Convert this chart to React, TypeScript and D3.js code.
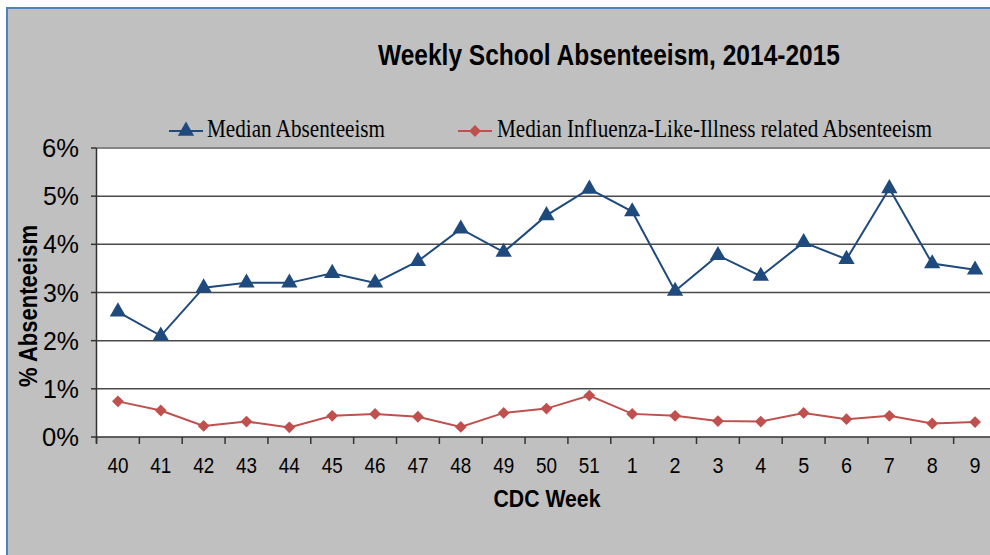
import React from 'react';
import * as d3 from 'd3';

const weeks = ['40', '41', '42', '43', '44', '45', '46', '47', '48', '49', '50', '51', '1', '2', '3', '4', '5', '6', '7', '8', '9'];
const medianAbsent = [2.6, 2.1, 3.1, 3.2, 3.2, 3.4, 3.2, 3.65, 4.32, 3.84, 4.6, 5.15, 4.68, 3.03, 3.77, 3.34, 4.04, 3.69, 5.16, 3.6, 3.47];
const medianIli = [0.74, 0.55, 0.23, 0.32, 0.2, 0.44, 0.48, 0.42, 0.21, 0.5, 0.59, 0.86, 0.48, 0.44, 0.33, 0.32, 0.5, 0.37, 0.44, 0.28, 0.31];
const yTicks = [0, 1, 2, 3, 4, 5, 6];

const W = 990;
const H = 555;
const BLUE = '#1F4A7E';
const RED = '#C0504D';

const App = () => {
  const plot = { left: 96.5, right: 996.5, top: 148, bottom: 437 };
  const x = d3.scaleBand<string>().domain(weeks).range([plot.left, plot.right]);
  const y = d3.scaleLinear().domain([0, 6]).range([plot.bottom, plot.top]);
  const cx = (w: string) => (x(w) as number) + x.bandwidth() / 2;

  const line = d3
    .line<number>()
    .x((_, i) => cx(weeks[i]))
    .y((d) => y(d));

  const tri = d3.symbol().type(d3.symbolTriangle).size(115)() as string;
  const dia = d3.symbol().type(d3.symbolSquare).size(70)() as string;
  const sans = 'Liberation Sans, Arial, sans-serif';
  const serif = 'Liberation Serif, Times New Roman, serif';

  return (
    <div style={{ position: 'absolute', left: 0, top: 0 }}>
      <svg width={W} height={H} style={{ display: 'block' }}>
        <rect x={0} y={0} width={W} height={H} fill="#fff" />
        <rect x={7} y={8} width={W + 20} height={H + 20} fill="#C0C0C0" stroke="#4F81BD" strokeWidth={2} />

        <text x={609} y={65} fontFamily={sans} fontWeight="bold" fontSize={30}
          textAnchor="middle" textLength={462} lengthAdjust="spacingAndGlyphs" fill="#000">
          Weekly School Absenteeism, 2014-2015
        </text>

        {/* legend */}
        <line x1={169} x2={203} y1={131} y2={131} stroke={BLUE} strokeWidth={2} />
        <path d={tri} transform="translate(186,131)" fill={BLUE} />
        <text transform="translate(207,137) scale(1,1.14)" fontFamily={serif} fontSize={22}
          textLength={178} lengthAdjust="spacingAndGlyphs" fill="#000">Median Absenteeism</text>
        <line x1={458} x2={492} y1={131} y2={131} stroke={RED} strokeWidth={2} />
        <path d={dia} transform="translate(475,131) rotate(45)" fill={RED} />
        <text transform="translate(497,137) scale(1,1.14)" fontFamily={serif} fontSize={22}
          textLength={435} lengthAdjust="spacingAndGlyphs" fill="#000">Median Influenza-Like-Illness related Absenteeism</text>

        {/* plot area */}
        <rect x={plot.left} y={plot.top} width={plot.right - plot.left} height={plot.bottom - plot.top} fill="#fff" />
        <line x1={plot.left} x2={W} y1={plot.top} y2={plot.top} stroke="#858585" strokeWidth={2} />
        {yTicks.map((t) => (
          <g key={t}>
            {t > 0 && t < 6 && (
              <line x1={plot.left} x2={W} y1={y(t)} y2={y(t)} stroke="#4a4a4a" strokeWidth={1.5} />
            )}
            <line x1={91} x2={plot.left} y1={y(t)} y2={y(t)} stroke="#333" strokeWidth={1.5} />
            <text x={79} y={y(t) + 9} textAnchor="end" fontFamily={sans}
              fontSize={25} textLength={t === 6 || t === 0 ? 37 : 36} lengthAdjust="spacingAndGlyphs" fill="#000">{t}%</text>
          </g>
        ))}
        <line x1={plot.left} x2={plot.left} y1={plot.top} y2={plot.bottom + 6} stroke="#333" strokeWidth={1.5} />
        <line x1={plot.left} x2={W} y1={plot.bottom} y2={plot.bottom} stroke="#333" strokeWidth={1.5} />
        {weeks.map((w) => (
          <g key={w}>
            <line x1={x(w) as number} x2={x(w) as number} y1={plot.bottom} y2={plot.bottom + 7} stroke="#333" strokeWidth={1.5} />
            <text x={cx(w)} y={473} textAnchor="middle" fontFamily={sans}
              fontSize={22} textLength={w.length > 1 ? 21 : 11} lengthAdjust="spacingAndGlyphs" fill="#000">{w}</text>
          </g>
        ))}

        <text x={547} y={507} textAnchor="middle" fontFamily={sans} fontWeight="bold"
          fontSize={24} textLength={107} lengthAdjust="spacingAndGlyphs" fill="#000">CDC Week</text>
        <text transform="translate(37,306) rotate(-90)" textAnchor="middle" fontFamily={sans}
          fontWeight="bold" fontSize={26} textLength={162} lengthAdjust="spacingAndGlyphs" fill="#000">% Absenteeism</text>

        {/* series */}
        <path d={line(medianIli) as string} fill="none" stroke={RED} strokeWidth={2} />
        {medianIli.map((v, i) => (
          <path key={i} d={dia} transform={`translate(${cx(weeks[i])},${y(v)}) rotate(45)`} fill={RED} />
        ))}
        <path d={line(medianAbsent) as string} fill="none" stroke={BLUE} strokeWidth={2} />
        {medianAbsent.map((v, i) => (
          <path key={i} d={tri} transform={`translate(${cx(weeks[i])},${y(v)})`} fill={BLUE} />
        ))}
      </svg>
    </div>
  );
};

export default App;
